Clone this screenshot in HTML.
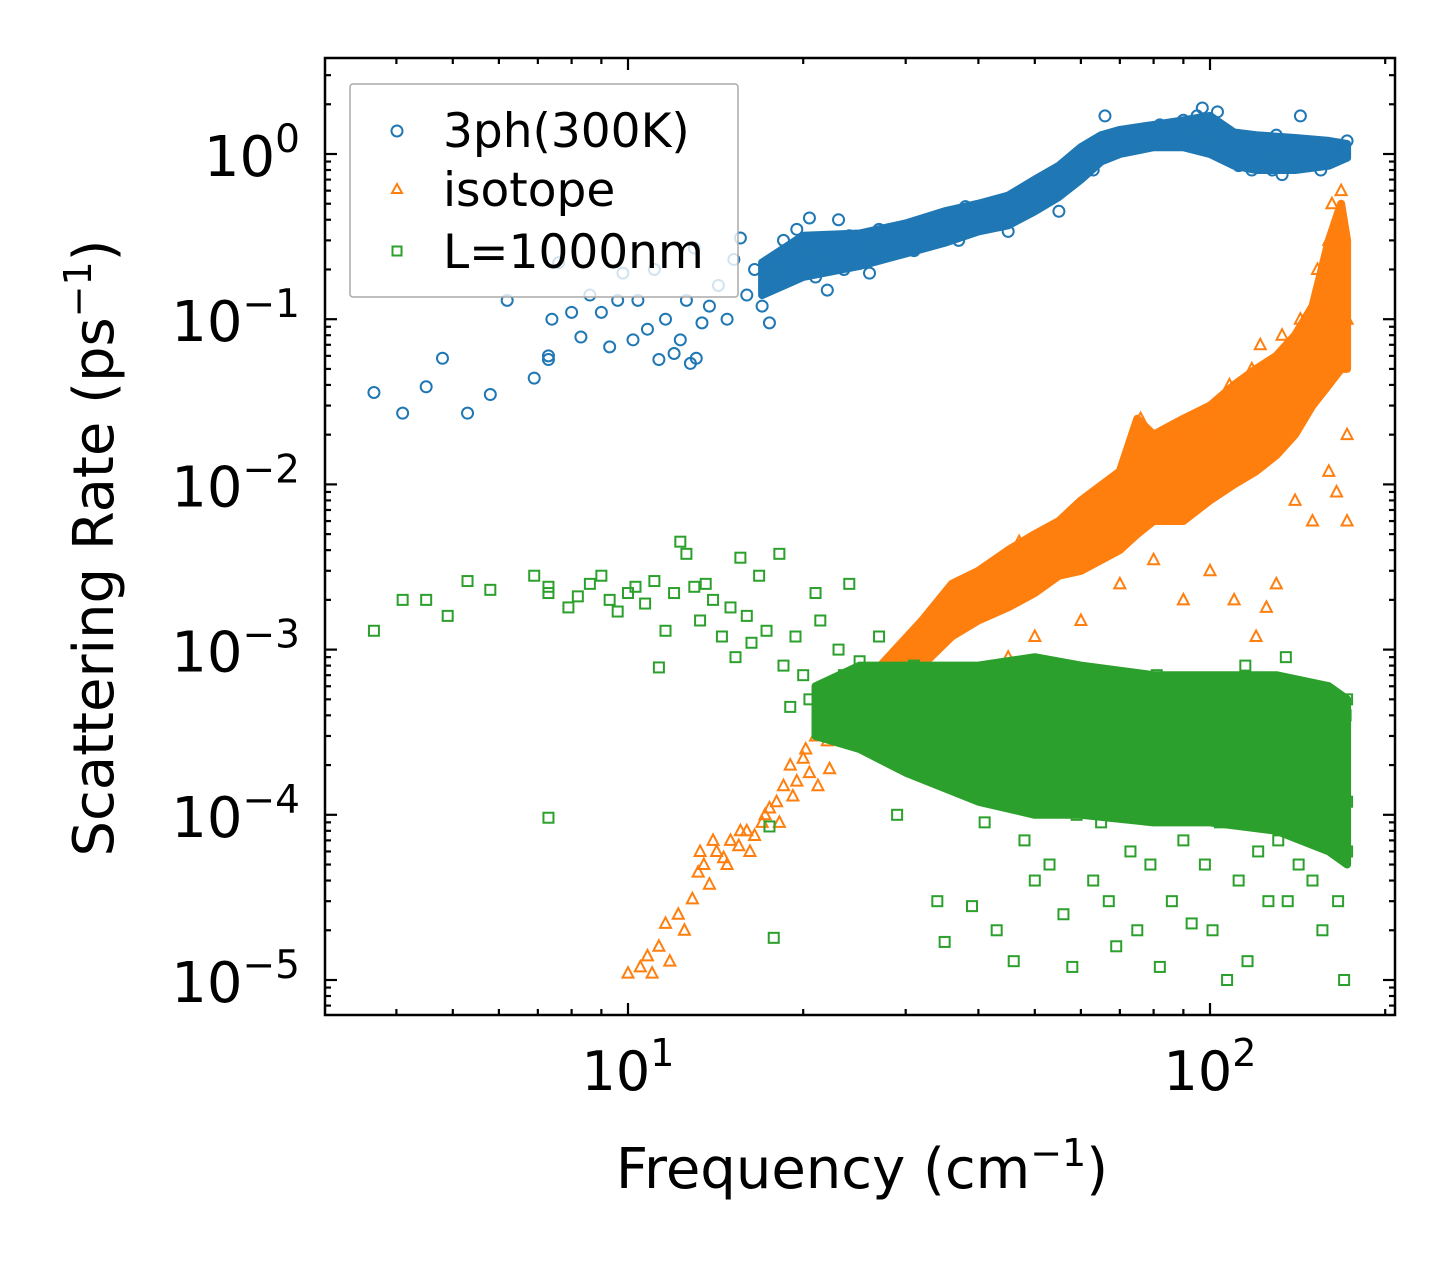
<!DOCTYPE html>
<html><head><meta charset="utf-8"><style>
html,body{margin:0;padding:0;background:#fff;}
svg{display:block;font-family:"DejaVu Sans","Liberation Sans",sans-serif;}
</style></head><body>
<svg id="chart" width="1455" height="1265" viewBox="0 0 1455 1265" xmlns="http://www.w3.org/2000/svg">
<rect x="0" y="0" width="1455" height="1265" fill="#fff"/>
<g id="marks"></g>
<g id="axes"></g>
<g id="legend">
<rect x="350" y="84" width="388" height="213" fill="#fff" fill-opacity="0.8" stroke="#aaa" stroke-width="1.5" rx="3"/>
<circle cx="397" cy="131" r="5.5" fill="none" stroke="#1f77b4" stroke-width="2"/>
<text x="443" y="147" font-size="47" fill="#000">3ph(300K)</text>
<path d="M397,184 L402,193 L392,193 Z" fill="none" stroke="#ff7f0e" stroke-width="2"/>
<text x="443" y="206" font-size="47" fill="#000">isotope</text>
<rect x="392.5" y="246.5" width="9" height="9" fill="none" stroke="#2ca02c" stroke-width="2"/>
<text x="443" y="268" font-size="47" fill="#000">L=1000nm</text>
</g>
<text x="862" y="1188" font-size="56" text-anchor="middle">Frequency (cm<tspan dy="-22" font-size="38">−1</tspan><tspan dy="22">)</tspan></text>
<text transform="translate(113,548) rotate(-90)" font-size="56" text-anchor="middle">Scattering Rate (ps<tspan dy="-22" font-size="38">−1</tspan><tspan dy="22">)</tspan></text>
</svg>
<script>
// ---- data: scattered points ----
const threephFreq = [3.66,4.1,4.5,4.8,5.3,5.8,6.2,6.9,7.3,7.3,7.4,7.6,8.0,8.3,8.6,9.0,9.3,9.6,9.8,10.2,10.4,10.8,11.1,11.3,11.6,12.0,12.3,12.6,12.8,13.1,13.4,13.0,13.8,14.3,14.8,15.2,15.6,16.0,16.5,17.0,17.5,18,18.5,19,19.5,20,20.5,21,21.5,22,22.5,23,23.5,24,25,26,27,28,29,30,31,32,33,34,35,36,37,38,39,40,42,44,45,46,48,50,52,54,55,56,58,60,62,63,65,66,68,70,72,75,78,80,82,85,88,90,92,95,97,100,103,105,108,110,112,115,118,120,125,128,130,133,136,140,143,146,150,155,160,165,170,172];
const threephRate = [0.036,0.027,0.039,0.058,0.027,0.035,0.13,0.044,0.06,0.057,0.1,0.22,0.11,0.078,0.14,0.11,0.068,0.13,0.19,0.075,0.13,0.087,0.2,0.057,0.1,0.062,0.075,0.13,0.054,0.058,0.095,0.27,0.12,0.16,0.1,0.23,0.31,0.14,0.2,0.12,0.095,0.24,0.3,0.2,0.35,0.22,0.41,0.18,0.3,0.15,0.26,0.4,0.2,0.32,0.25,0.19,0.35,0.28,0.3,0.33,0.26,0.36,0.31,0.4,0.33,0.44,0.3,0.48,0.38,0.45,0.4,0.52,0.34,0.47,0.55,0.5,0.62,0.7,0.45,0.75,0.85,1.0,1.1,0.8,1.2,1.7,1.3,1.25,1.1,1.3,1.4,1.2,1.5,1.35,1.45,1.6,1.2,1.7,1.9,1.5,1.8,1.3,1.1,1.0,0.85,1.2,0.8,1.0,1.1,0.8,1.3,0.75,1.0,1.2,1.7,0.9,1.1,0.8,1.0,1.1,1.05,1.2];
const isotopeFreq = [10,10.5,10.8,11,11.3,11.6,11.8,12.2,12.5,12.9,13.2,13.5,13.8,14.2,14.6,15,15.5,16,16.5,17,17.5,18,18.5,19,19.5,20,20.5,21,21.5,22,22.5,23,24,13.3,14,14.8,15.6,16.2,17.2,18.2,19.2,20.2,21.2,22.2,23.2,25,26,27,28,29,30,31,47,56,64,68,75,76,88,98,102,108,118,122,133,143,150,153,160,162,168,170,172,172,172,165,160,150,140,130,125,120,110,100,90,80,70,60,50,45];
const isotopeRate = [0.000011,0.000012,0.000014,0.000011,0.000016,0.000022,0.000013,0.000025,0.00002,0.000031,0.000045,0.00005,0.000038,0.00006,0.000055,0.00007,0.000065,0.00008,0.000075,0.00009,0.00011,0.00012,0.00015,0.0002,0.00016,0.00022,0.00018,0.0003,0.0004,0.00028,0.00035,0.0005,0.0004,0.00006,0.00007,0.00005,0.00008,0.00006,0.0001,0.00009,0.00013,0.00025,0.00015,0.00019,0.00045,0.00045,0.0006,0.0005,0.0007,0.0006,0.0008,0.001,0.0045,0.006,0.0085,0.0095,0.02,0.025,0.02,0.022,0.03,0.04,0.05,0.07,0.08,0.1,0.12,0.2,0.3,0.5,0.6,0.3,0.1,0.02,0.006,0.009,0.012,0.006,0.008,0.0025,0.0018,0.0012,0.002,0.003,0.002,0.0035,0.0025,0.0015,0.0012,0.0009];
const boundaryFreq = [3.66,4.1,4.5,4.9,5.3,5.8,6.9,7.3,7.3,7.3,7.9,8.2,8.6,9,9.3,9.6,10,10.3,10.7,11.1,11.3,11.6,12,12.3,12.6,13,13.3,13.6,14,14.5,15,15.3,15.6,16,16.3,16.8,17.3,17.5,17.8,18.2,18.5,19,19.4,20,20.5,21,21.4,22,22.5,23,23.5,24,24.5,25,26,27,28,29,30,31,32,33,34,35,36,37,38,39,40,41,42,43,44,45,46,47,48,49,50,51,52,53,54,55,56,57,58,59,60,62,63,64,65,66,67,68,69,70,72,73,74,75,76,78,79,80,81,82,84,85,86,88,89,90,92,93,95,96,98,100,101,103,104,106,107,108,110,112,113,115,116,118,120,121,123,125,126,128,130,131,133,135,136,138,140,142,144,146,148,150,152,154,156,158,160,162,164,166,168,170,171,172,172,172];
const boundaryRate = [0.0013,0.002,0.002,0.0016,0.0026,0.0023,0.0028,0.0022,0.0024,0.000096,0.0018,0.0021,0.0025,0.0028,0.002,0.0017,0.0022,0.0024,0.0019,0.0026,0.00078,0.0013,0.0022,0.0045,0.0038,0.0024,0.0015,0.0025,0.002,0.0012,0.0018,0.0009,0.0036,0.0016,0.0011,0.0028,0.0013,0.000085,0.000018,0.0038,0.0008,0.00045,0.0012,0.0007,0.0005,0.0022,0.0015,0.00055,0.0003,0.001,0.0007,0.0025,0.0004,0.00085,0.0005,0.0012,0.00035,0.0001,0.0006,0.0008,0.00025,0.0004,0.00003,0.000017,0.0005,0.0007,0.00015,0.000028,0.0003,0.00009,0.00045,0.00002,0.0006,0.00013,0.000013,0.00025,0.00007,0.0004,0.00004,0.0002,0.0008,0.00005,0.0003,0.00015,0.000025,0.0005,0.000012,0.0001,0.00035,0.00018,0.00004,0.0006,0.00009,0.00025,0.00003,0.0004,0.000016,0.00012,0.0003,0.00006,0.0005,0.00002,0.00015,0.00035,0.00005,0.00022,0.0007,0.000012,0.00011,0.0004,0.00003,0.00018,0.0006,0.00007,0.00025,0.000022,0.0004,0.00013,0.00005,0.0003,0.00002,0.0006,0.00009,0.0002,0.00001,0.00045,0.00012,0.00004,0.0003,0.0008,0.000013,0.00015,0.00035,0.00006,0.00025,0.0005,0.00003,0.0001,0.0004,0.00007,0.0002,0.0009,0.00003,0.00015,0.0003,0.00005,0.0006,0.0001,0.00025,0.00004,0.0004,0.00015,0.00002,0.0003,0.00008,0.0005,0.00015,0.00003,0.00025,0.00001,0.0004,0.00012,0.0005,0.00006];

// ---- data: dense-cloud envelopes (freq, lower rate, upper rate) ----
const threephBandFreq = [17,20,25,30,35,40,45,50,55,60,65,70,80,90,100,110,120,140,160,172];
const threephBandLow  = [0.14,0.18,0.21,0.25,0.29,0.34,0.37,0.45,0.55,0.7,0.9,1.0,1.1,1.1,1.0,0.85,0.8,0.8,0.85,0.95];
const threephBandHigh = [0.22,0.32,0.33,0.38,0.45,0.5,0.56,0.7,0.85,1.1,1.3,1.4,1.5,1.6,1.7,1.35,1.3,1.25,1.2,1.15];
const isotopeBandFreq = [24,28,32,36,40,45,50,55,60,70,75,80,90,100,110,120,130,140,150,160,168,172];
const isotopeBandLow  = [0.0003,0.0005,0.0008,0.0012,0.0015,0.0018,0.0022,0.0028,0.003,0.004,0.005,0.006,0.006,0.008,0.01,0.012,0.015,0.02,0.03,0.04,0.05,0.05];
const isotopeBandHigh = [0.0005,0.0009,0.0015,0.0025,0.003,0.004,0.005,0.006,0.008,0.012,0.025,0.02,0.025,0.03,0.04,0.05,0.06,0.08,0.12,0.3,0.5,0.3];
const boundaryBandFreq = [21,25,30,40,50,60,80,100,130,160,172];
const boundaryBandLow  = [0.0003,0.00025,0.00018,0.00012,0.0001,0.0001,0.00009,0.00009,0.00008,0.00006,0.00005];
const boundaryBandHigh = [0.0006,0.0008,0.0008,0.0008,0.0009,0.0008,0.0007,0.0007,0.0007,0.0006,0.0005];

const xTickValues = [10,100];
const yTickExps = [0,-1,-2,-3,-4,-5];

// ---- axes ----
const L=325,R=1395,T=58,B=1015;
const X = f => 628 + (Math.log10(f)-1)*582;
const Y = r => 154 - Math.log10(r)*165.2;
const NS="http://www.w3.org/2000/svg";
const marks=document.getElementById('marks');
const axes=document.getElementById('axes');
function mk(tag,attrs,parent){const e=document.createElementNS(NS,tag);for(const k in attrs)e.setAttribute(k,attrs[k]);parent.appendChild(e);return e;}

function drawBand(fs,lo,hi,color,name){
  let d='';
  for(let i=0;i<fs.length;i++) d+=(i?'L':'M')+X(fs[i]).toFixed(1)+','+Y(hi[i]).toFixed(1);
  for(let i=fs.length-1;i>=0;i--) d+='L'+X(fs[i]).toFixed(1)+','+Y(lo[i]).toFixed(1);
  d+='Z';
  const p=mk('path',{d:d,fill:color,stroke:color,'stroke-width':8,'stroke-linejoin':'round'},marks);
  
  
}
function drawSeries(fs,rs,kind,color,name){
  const g=mk('g',{},marks);
  
  
  for(let i=0;i<fs.length;i++){
    const x=X(fs[i]),y=Y(rs[i]);let e;
    if(kind==='circle') e=mk('circle',{cx:x,cy:y,r:5.5,fill:'none',stroke:color,'stroke-width':2},g);
    else if(kind==='tri') e=mk('path',{d:`M${x},${y-6} L${x+5.5},${y+4.5} L${x-5.5},${y+4.5} Z`,fill:'none',stroke:color,'stroke-width':2},g);
    else e=mk('rect',{x:x-5,y:y-5,width:10,height:10,fill:'none',stroke:color,'stroke-width':2},g);
    
    
  }
}
drawBand(threephBandFreq,threephBandLow,threephBandHigh,'#1f77b4','3ph');
drawSeries(threephFreq,threephRate,'circle','#1f77b4','3ph');
drawBand(isotopeBandFreq,isotopeBandLow,isotopeBandHigh,'#ff7f0e','isotope');
drawSeries(isotopeFreq,isotopeRate,'tri','#ff7f0e','isotope');
drawBand(boundaryBandFreq,boundaryBandLow,boundaryBandHigh,'#2ca02c','boundary');
drawSeries(boundaryFreq,boundaryRate,'sq','#2ca02c','boundary');

const frame=mk('rect',{x:L,y:T,width:R-L,height:B-T,fill:'none',stroke:'#000','stroke-width':2.5},axes);



for(let d=0;d<=2;d++){
  for(let m=1;m<10;m++){
    const v=m*Math.pow(10,d);const x=X(v);
    if(x<L||x>R)continue;
    const len=(m===1)?12:6;
    const t1=mk('line',{x1:x,x2:x,y1:B,y2:B-len,stroke:'#000','stroke-width':2.2},axes);
    
    
    const t2=mk('line',{x1:x,x2:x,y1:T,y2:T+len,stroke:'#000','stroke-width':2.2},axes);
    
    
  }
}
xTickValues.forEach(v=>{
  const t=mk('text',{x:X(v),y:1090,'font-size':54,'text-anchor':'middle'},axes);
  
  
  t.innerHTML='10<tspan dy="-24" font-size="38">'+Math.round(Math.log10(v))+'</tspan>';
});
for(let e=-6;e<=1;e++){
  for(let m=1;m<10;m++){
    const v=m*Math.pow(10,e);const y=Y(v);
    if(y<T||y>B)continue;
    const len=(m===1)?12:6;
    const t1=mk('line',{x1:L,x2:L+len,y1:y,y2:y,stroke:'#000','stroke-width':2.2},axes);
    
    
    const t2=mk('line',{x1:R,x2:R-len,y1:y,y2:y,stroke:'#000','stroke-width':2.2},axes);
    
    
  }
}
yTickExps.forEach(e=>{
  const t=mk('text',{x:300,y:Y(Math.pow(10,e))+22,'font-size':56,'text-anchor':'end'},axes);
  
  
  t.innerHTML='10<tspan dy="-24" font-size="39">'+(e<0?'−'+(-e):e)+'</tspan>';
});
</script>
</body></html>
